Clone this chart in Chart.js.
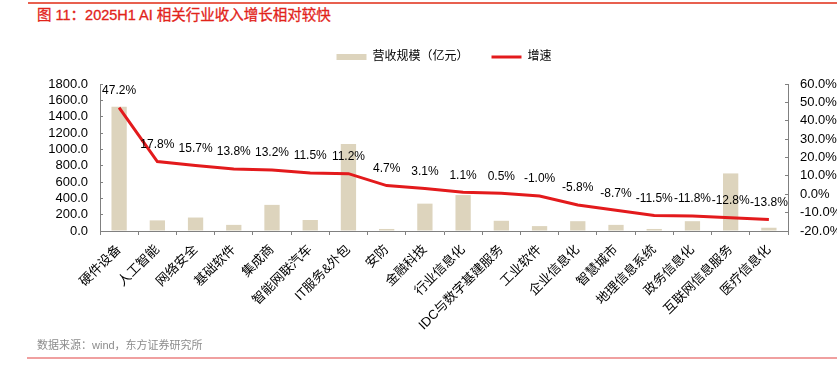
<!DOCTYPE html>
<html>
<head>
<meta charset="utf-8">
<script src="https://cdn.jsdelivr.net/npm/chart.js@4.4.1/dist/chart.umd.min.js"></script>
<style>
  body { margin: 0; background: #fff; }
  #wrap { position: relative; width: 837px; height: 371px; overflow: hidden; font-family: "Liberation Sans", "Noto Sans CJK SC", sans-serif; }
  #topLine { position: absolute; left: 28px; right: 0; top: 2px; height: 2px; background: #e8604f; }
  #title { position: absolute; left: 37px; top: 6px; font-size: 14.5px; line-height: 18px; color: #e2231a; white-space: nowrap; -webkit-text-stroke: 0.3px #e2231a; }
  #source { position: absolute; left: 37px; top: 338px; font-size: 11px; line-height: 14px; color: #8c8c8c; white-space: nowrap; }
  #bottomLine { position: absolute; left: 27px; right: 0; top: 357px; height: 2px; background: #f0a0a0; }
  canvas { position: absolute; left: 0; top: 0; }
</style>
</head>
<body>
<div id="wrap">
  <div id="topLine"></div>
  <div id="title">图 11：2025H1 AI 相关行业收入增长相对较快</div>
  <canvas id="chart" width="837" height="371"></canvas>
  <div id="source">数据来源：wind，东方证券研究所</div>
  <div id="bottomLine"></div>
</div>
<script>
const categorias = ['硬件设备', '人工智能', '网络安全', '基础软件', '集成商', '智能网联汽车', 'IT服务&外包', '安防', '金融科技',
    '行业信息化', 'IDC与数字基建服务', '工业软件', '企业信息化', '智慧城市', '地理信息系统', '政务信息化', '互联网信息服务', '医疗信息化'];
const ingresos = [1520, 130, 165, 75, 320, 135, 1065, 25, 335, 440, 125, 60, 120, 75, 25, 120, 705, 40];
const crecimiento = [47.2, 17.8, 15.7, 13.8, 13.2, 11.5, 11.2, 4.7, 3.1, 1.1, 0.5, -1.0, -5.8, -8.7, -11.5, -11.8, -12.8, -13.8];
const ejeIzq = { min: 0, max: 1800, paso: 200 };
const ejeDer = { min: -20, max: 60, paso: 10 };

const fuente = '"Liberation Sans", "Noto Sans CJK SC", sans-serif';
const gris = '#808080';

// espacio extra entre la leyenda y el area del grafico
const espacioLeyenda = {
    id: 'espacioLeyenda',
    afterInit(chart) {
        const fit = chart.legend.fit;
        chart.legend.fit = function () {
            fit.call(this);
            this.height += 11;
        };
    }
};

// etiquetas de porcentaje sobre la linea
const etiquetas = {
    id: 'etiquetas',
    afterDatasetsDraw(chart) {
        const meta = chart.getDatasetMeta(1);
        const ctx = chart.ctx;
        ctx.save();
        ctx.font = '12px ' + fuente;
        ctx.fillStyle = '#000';
        ctx.textAlign = 'center';
        ctx.textBaseline = 'middle';
        meta.data.forEach((p, i) => {
            ctx.fillText(crecimiento[i].toFixed(1) + '%', p.x, p.y - 17);
        });
        ctx.restore();
    }
};

new Chart(document.getElementById('chart'), {
    type: 'bar',
    data: {
        labels: categorias,
        datasets: [
            {
                label: '营收规模（亿元）',
                data: ingresos,
                backgroundColor: '#ddd4bd',
                borderWidth: 0,
                yAxisID: 'y',
                categoryPercentage: 1,
                barPercentage: 0.4,
                pointStyle: 'rect',
                order: 1
            },
            {
                type: 'line',
                label: '增速',
                data: crecimiento,
                borderColor: '#e31a1c',
                backgroundColor: '#e31a1c',
                borderWidth: 3,
                pointRadius: 0,
                tension: 0,
                yAxisID: 'y1',
                pointStyle: 'line',
                order: 0
            }
        ]
    },
    options: {
        responsive: false,
        animation: false,
        layout: { padding: { left: 0, right: 0, top: 28, bottom: 0 } },
        plugins: {
            legend: {
                position: 'top',
                fullSize: false,
                labels: {
                    font: { size: 12, family: fuente },
                    color: '#000',
                    usePointStyle: true,
                    pointStyleWidth: 30,
                    boxWidth: 30,
                    boxHeight: 6,
                    padding: 23,
                    sort: (a, b) => a.datasetIndex - b.datasetIndex
                }
            },
            tooltip: { enabled: false }
        },
        scales: {
            x: {
                offset: true,
                grid: { offset: true, drawOnChartArea: false, tickLength: 4, color: gris },
                border: { color: gris },
                ticks: {
                    autoSkip: false,
                    maxRotation: 45,
                    minRotation: 45,
                    padding: 7,
                    color: '#000',
                    font: { size: 13, family: fuente }
                },
                afterFit: s => { s.height = 140; }
            },
            y: {
                position: 'left',
                min: ejeIzq.min,
                max: ejeIzq.max,
                grid: { drawOnChartArea: false, tickLength: -3, color: gris },
                border: { color: gris },
                ticks: {
                    autoSkip: false,
                    stepSize: ejeIzq.paso,
                    padding: 15,
                    color: '#000',
                    font: { size: 13, family: fuente },
                    callback: v => v.toFixed(1)
                },
                afterFit: s => { s.width = 100; }
            },
            y1: {
                position: 'right',
                min: ejeDer.min,
                max: ejeDer.max,
                grid: { drawOnChartArea: false, tickLength: -3, color: gris },
                border: { color: gris },
                ticks: {
                    autoSkip: false,
                    stepSize: ejeDer.paso,
                    padding: 15,
                    color: '#000',
                    font: { size: 13, family: fuente },
                    callback: v => v.toFixed(1) + '%'
                },
                afterFit: s => { s.width = 49; }
            }
        }
    },
    plugins: [espacioLeyenda, etiquetas]
});
</script>
</body>
</html>
